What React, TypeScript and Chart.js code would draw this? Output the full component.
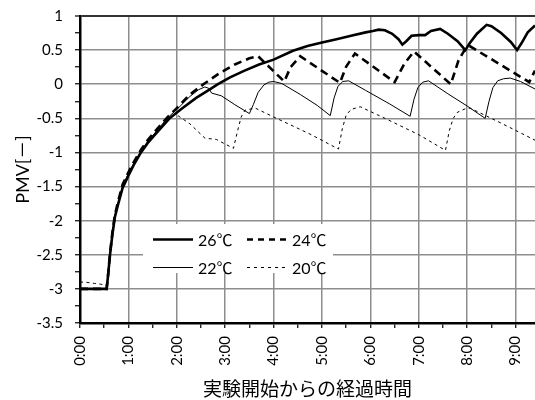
import React, { useEffect, useRef } from "react";
import { Chart, registerables } from "chart.js";

Chart.register(...registerables);

const seriesLabels = ["26℃", "24℃", "22℃", "20℃"];

const t26 = [0, 0.55, 0.58, 0.62, 0.67, 0.72, 0.78, 0.88, 1.0, 1.12, 1.26, 1.4, 1.6, 1.85, 2.1, 2.4, 2.65, 2.85, 3.1, 3.4, 3.7, 4.0, 4.4, 4.7, 5.0, 5.3, 5.6, 5.9, 6.05, 6.17, 6.3, 6.45, 6.58, 6.66, 6.74, 6.85, 7.0, 7.13, 7.25, 7.44, 7.6, 7.8, 7.96, 8.05, 8.2, 8.4, 8.5, 8.7, 8.9, 9.03, 9.12, 9.25, 9.4];
const pmv26 = [-3, -3, -2.8, -2.5, -2.2, -1.95, -1.78, -1.52, -1.34, -1.17, -1.0, -0.86, -0.7, -0.5, -0.36, -0.2, -0.09, 0.0, 0.1, 0.2, 0.29, 0.36, 0.49, 0.56, 0.61, 0.66, 0.71, 0.76, 0.78, 0.8, 0.79, 0.74, 0.66, 0.58, 0.63, 0.71, 0.72, 0.72, 0.78, 0.81, 0.74, 0.63, 0.5, 0.6, 0.74, 0.87, 0.85, 0.75, 0.62, 0.5, 0.6, 0.76, 0.86];

const t24 = [0, 0.55, 0.58, 0.62, 0.67, 0.72, 0.78, 0.88, 1.0, 1.12, 1.26, 1.4, 1.6, 1.8, 2.0, 2.27, 2.55, 2.9, 3.2, 3.5, 3.68, 4.22, 4.35, 4.55, 5.37, 5.5, 5.68, 6.5, 6.7, 6.9, 7.66, 7.82, 7.97, 8.05, 9.28, 9.4];
const pmv24 = [-3, -3, -2.8, -2.48, -2.17, -1.92, -1.74, -1.47, -1.29, -1.13, -0.96, -0.82, -0.65, -0.49, -0.35, -0.15, 0.0, 0.17, 0.29, 0.38, 0.41, 0.04, 0.25, 0.41, 0.02, 0.26, 0.45, 0.03, 0.3, 0.48, 0.0, 0.35, 0.53, 0.56, 0.03, 0.2];

const t22 = [0, 0.55, 0.58, 0.62, 0.67, 0.72, 0.78, 0.88, 1.0, 1.12, 1.26, 1.4, 1.6, 1.8, 2.0, 2.27, 2.45, 2.58, 2.66, 2.72, 2.92, 3.2, 3.5, 3.58, 3.68, 3.8, 3.9, 4.0, 4.17, 4.55, 4.9, 5.17, 5.25, 5.33, 5.43, 5.55, 5.9, 6.4, 6.82, 6.9, 6.98, 7.08, 7.2, 7.6, 8.0, 8.37, 8.45, 8.53, 8.63, 8.75, 8.89, 9.1, 9.4];
const pmv22 = [-3, -3, -2.8, -2.49, -2.18, -1.93, -1.76, -1.49, -1.31, -1.15, -0.98, -0.84, -0.67, -0.5, -0.37, -0.18, -0.08, -0.04, -0.06, -0.13, -0.17, -0.3, -0.43, -0.3, -0.12, -0.01, 0.03, 0.04, 0.01, -0.15, -0.31, -0.46, -0.2, -0.03, 0.04, 0.05, -0.09, -0.29, -0.47, -0.22, -0.05, 0.03, 0.05, -0.14, -0.32, -0.5, -0.25, -0.05, 0.05, 0.08, 0.09, 0.04, -0.07];

const t20 = [0, 0.1, 0.2, 0.3, 0.42, 0.55, 0.58, 0.62, 0.67, 0.72, 0.78, 0.88, 1.0, 1.12, 1.26, 1.4, 1.6, 1.8, 1.98, 2.27, 2.58, 2.82, 3.17, 3.25, 3.33, 3.41, 3.62, 4.0, 4.75, 5.34, 5.42, 5.5, 5.6, 5.79, 6.3, 7.0, 7.55, 7.63, 7.71, 7.8, 7.96, 8.06, 8.7, 9.4];
const pmv20 = [-2.9, -2.9, -2.91, -2.92, -2.93, -2.95, -2.8, -2.5, -2.19, -1.94, -1.77, -1.5, -1.32, -1.16, -0.99, -0.85, -0.68, -0.52, -0.44, -0.58, -0.79, -0.81, -0.94, -0.7, -0.48, -0.38, -0.35, -0.48, -0.73, -0.95, -0.65, -0.45, -0.37, -0.33, -0.5, -0.74, -0.97, -0.68, -0.5, -0.41, -0.36, -0.35, -0.57, -0.82];

const xMin = 0;
const xMax = 9.4;
const yMin = -3.5;
const yMax = 1;

const FONT = "Lato, 'Noto Sans CJK JP', sans-serif";

const toPoints = (t: number[], v: number[]) => t.map((x, i) => ({ x, y: v[i] }));

const isMajor = (v: number, step: number) => Math.abs(v / step - Math.round(v / step)) < 1e-6;

const legendPlugin = {
  id: "boxLegend",
  afterDraw(chart: any) {
    const { ctx, chartArea } = chart;
    const ox = chartArea.left;
    const oy = chartArea.top;
    ctx.save();
    ctx.fillStyle = "#ffffff";
    ctx.fillRect(ox + 63, oy + 208, 190, 49);
    const cols = [ox + 73, ox + 167];
    const rows = [oy + 223.5, oy + 251.5];
    chart.data.datasets.forEach((ds: any, i: number) => {
      const x = cols[i % 2];
      const y = rows[Math.floor(i / 2)];
      ctx.beginPath();
      const dash = ds.borderDash && ds.borderDash.length ? (ds.borderWidth > 2 ? [6, 5] : [3, 4]) : [];
      ctx.setLineDash(dash);
      ctx.lineWidth = ds.borderWidth;
      ctx.strokeStyle = ds.borderColor;
      ctx.moveTo(x, y);
      ctx.lineTo(x + 40, y);
      ctx.stroke();
      ctx.setLineDash([]);
      ctx.fillStyle = "#000";
      ctx.font = `16px ${FONT}`;
      ctx.textBaseline = "middle";
      ctx.textAlign = "left";
      ctx.fillText(ds.label, x + 45, y + 1);
    });
    ctx.restore();
  },
};

export default function App() {
  const ref = useRef<HTMLCanvasElement | null>(null);

  useEffect(() => {
    document.body.style.margin = "0";
    if (!ref.current) return;
    const chart = new Chart(ref.current, {
      type: "line",
      data: {
        datasets: [
          { label: seriesLabels[0], data: toPoints(t26, pmv26), borderColor: "#000", borderWidth: 2.6, pointRadius: 0 },
          { label: seriesLabels[1], data: toPoints(t24, pmv24), borderColor: "#000", borderWidth: 2.6, borderDash: [8, 5], pointRadius: 0 },
          { label: seriesLabels[2], data: toPoints(t22, pmv22), borderColor: "#000", borderWidth: 1, pointRadius: 0 },
          { label: seriesLabels[3], data: toPoints(t20, pmv20), borderColor: "#000", borderWidth: 1, borderDash: [3, 3.5], pointRadius: 0 },
        ],
      },
      options: {
        responsive: false,
        animation: false,
        layout: { padding: { left: 0, right: 0, top: 16, bottom: 0 } },
        plugins: { legend: { display: false }, tooltip: { enabled: false } },
        scales: {
          x: {
            type: "linear",
            min: xMin,
            max: xMax,
            afterFit: (s: any) => { s.height = 77; s.paddingLeft = 0; s.paddingRight = 0; },
            border: { color: "#000", width: 2.5 },
            grid: {
              color: (c: any) => (c.tick && isMajor(c.tick.value, 1) ? "#8e8e8e" : "rgba(0,0,0,0)"),
              lineWidth: 1.5,
              tickColor: "#000",
              tickLength: 5,
              tickWidth: 1.2,
            },
            ticks: {
              stepSize: 0.5,
              includeBounds: false,
              autoSkip: false,
              minRotation: 90,
              maxRotation: 90,
              padding: 8,
              color: "#000",
              font: { family: FONT, size: 15 },
              callback: (v: any) => (isMajor(Number(v), 1) ? `${Math.round(Number(v))}:00` : ""),
            },
            title: {
              display: true,
              text: "実験開始からの経過時間",
              color: "#000",
              font: { family: FONT, size: 19 },
              padding: { top: 0, bottom: -1 },
            },
          },
          y: {
            min: yMin,
            max: yMax,
            afterFit: (s: any) => { s.width = 80; s.paddingTop = 0; s.paddingBottom = 0; },
            border: { color: "#000", width: 2.5 },
            grid: {
              color: (c: any) => {
                if (!c.tick) return "rgba(0,0,0,0)";
                if (Math.abs(c.tick.value - yMax) < 1e-6) return "#333";
                return isMajor(c.tick.value, 0.5) ? "#8e8e8e" : "rgba(0,0,0,0)";
              },
              lineWidth: (c: any) => (c.tick && Math.abs(c.tick.value - yMax) < 1e-6 ? 2 : 1.5),
              tickColor: "#000",
              tickLength: 5,
              tickWidth: 1.2,
            },
            ticks: {
              stepSize: 0.25,
              autoSkip: false,
              padding: 12,
              color: "#000",
              font: { family: FONT, size: 15 },
              callback: (v: any) => (isMajor(Number(v), 0.5) ? String(Number(v)) : ""),
            },
            title: {
              display: true,
              text: "PMV[－]",
              color: "#000",
              font: { family: FONT, size: 18 },
              padding: { top: 12, bottom: 0 },
            },
          },
        },
      },
      plugins: [legendPlugin],
    });
    return () => chart.destroy();
  }, []);

  return (
    <div style={{ position: "fixed", left: 0, top: 0, width: 535, height: 400, background: "#fff" }}>
      <canvas ref={ref} width={535} height={400} style={{ display: "block" }} />
    </div>
  );
}
